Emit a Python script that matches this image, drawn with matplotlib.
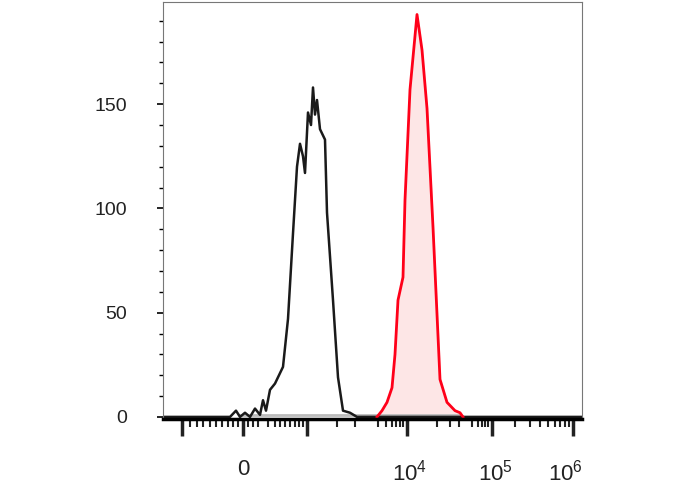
import matplotlib.pyplot as plt
import numpy as np

plt.rcParams['font.family'] = ['Liberation Sans', 'DejaVu Sans']

# x in display channel units, y in counts
black_x = [163, 230, 236, 240, 245, 250, 255, 260, 263, 266, 270, 275, 283, 288, 293, 297, 300, 303, 305,
           308, 311, 313, 315, 317, 320, 325, 327, 333, 338, 343, 350, 357, 582]
black_y = [0, 0, 3, 0, 2, 0, 4, 1, 8, 3, 13, 16, 24, 47, 88, 120, 131, 125, 117,
           146, 140, 158, 145, 152, 138, 133, 98, 56, 19, 3, 2, 0, 0]
red_x = [377, 382, 387, 392, 395, 398, 403, 405, 410, 417, 422, 427, 433, 440, 447, 455, 460, 463]
red_y = [0, 3, 7, 14, 30, 56, 67, 104, 157, 193, 176, 148, 91, 18, 7, 3, 2, 0]
gray_x = [240, 460]
gray_y = [1, 1]

xtick_major = [182, 243, 307, 407, 492, 573]
xtick_minor = [190, 197, 203, 210, 216, 222, 228, 233, 238, 248, 253, 258, 268, 275, 280, 285, 290, 295, 299, 303,
               337, 355, 378, 386, 392, 396, 400, 403, 437, 450, 459, 472, 478, 482, 485, 488, 515, 530, 540, 548, 555, 560, 565, 569]
xlabel_pos = [243, 410, 495, 565]
xlabel_txt = ['0', r'$\mathregular{10^4}$', r'$\mathregular{10^5}$', r'$\mathregular{10^6}$']
ytick_major = [0, 50, 100, 150]
ytick_minor = list(range(10, 200, 10))

fig = plt.figure(figsize=(6.88, 4.9), dpi=100)
ax = fig.add_axes([163 / 688, 71 / 490, 419 / 688, 417 / 490])

ax.fill_between(red_x, red_y, color='#fde6e6')
ax.plot(gray_x, gray_y, color='#bbbbbb', lw=2)
ax.plot(black_x, black_y, color='#1a1a1a', lw=1.8)
ax.plot(red_x, red_y, color='#ff0019', lw=2)

ax.set_xlim(163, 582)
ax.set_ylim(-1, 199)

ax.set_xticks(xtick_major)
ax.set_xticks(xtick_minor, minor=True)
ax.set_xticklabels([])
ax.tick_params(axis='x', which='major', direction='out', length=12, width=2.5, color='#222222')
ax.tick_params(axis='x', which='minor', direction='out', length=6, width=1.5, color='#222222')
for p, t in zip(xlabel_pos, xlabel_txt):
    ax.annotate(t, (p, 0), xycoords=('data', 'axes fraction'), xytext=(0, -29),
                textcoords='offset points', ha='center', va='top', fontsize=16, color='#222222')

ax.set_yticks(ytick_major)
ax.set_yticks(ytick_minor, minor=True)
ax.set_yticklabels([str(v) for v in ytick_major], fontsize=14, color='#222222')
ax.tick_params(axis='y', which='major', direction='out', length=4, width=1.2, pad=22)
ax.tick_params(axis='y', which='minor', direction='out', length=3, width=1)

ax.spines['bottom'].set_linewidth(2.5)
for s in ['top', 'right', 'left']:
    ax.spines[s].set_linewidth(0.8)
    ax.spines[s].set_color('#777777')

fig.savefig('out.png', dpi=100)
